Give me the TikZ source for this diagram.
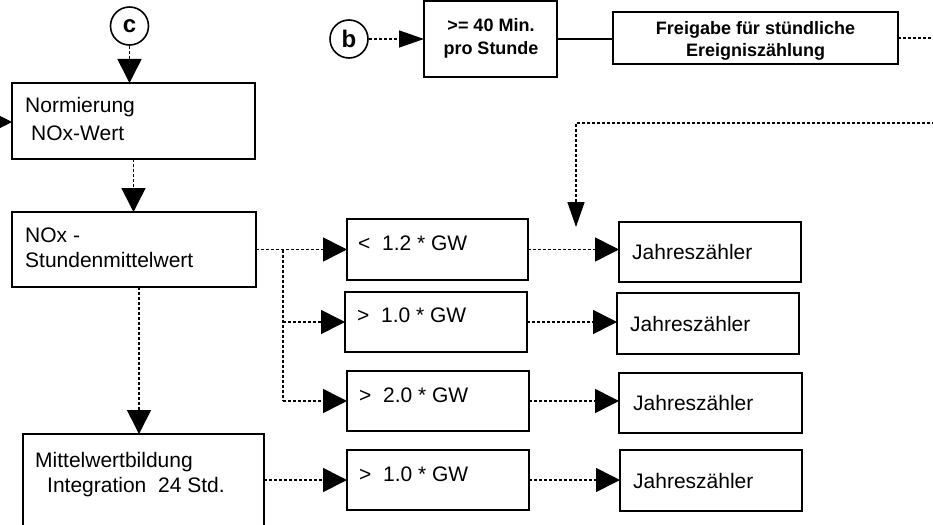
\documentclass[tikz,border=0pt]{standalone}
\usepackage{fontspec}
\setmainfont{Liberation Sans}
\usetikzlibrary{arrows.meta,calc}
\tikzset{
  box/.style={draw, line width=1.8pt, anchor=north west, inner sep=0pt, outer sep=0pt},
  txt/.style={anchor=base west, inner sep=0pt, font=\fontsize{21}{25}\selectfont},
  btxt/.style={anchor=base, inner sep=0pt, font=\bfseries\fontsize{18}{22}\selectfont},
  dline/.style={line width=1.6pt, dash pattern=on 3pt off 2pt},
  sline/.style={line width=1.8pt},
  bigtip/.style={-{Triangle[length=24pt,width=24pt]}},
  slimtip/.style={-{Triangle[length=25pt,width=17pt]}},
  circ/.style={draw, circle, line width=1.6pt, minimum size=38pt, inner sep=0pt, font=\bfseries\fontsize{24}{24}\selectfont},
}
\begin{document}
\begin{tikzpicture}[x=1pt,y=-1pt]
\useasboundingbox (0,0) rectangle (933,524);
\fill[white] (0,0) rectangle (933,524);
\clip (0,0) rectangle (933,524);
% circles
\node[circ] (c) at (129.5,26) {c};
\node[circ] (b) at (349,39) {b};
% left column boxes
\node[box, minimum width=243pt, minimum height=76pt] (norm) at (12,83) {};
\node[box, minimum width=244pt, minimum height=75pt] (nox) at (12,212) {};
\node[box, minimum width=241pt, minimum height=120pt] (mw) at (23,434) {};
% top boxes
\node[box, minimum width=133pt, minimum height=76pt] (m40) at (424,1) {};
\node[box, minimum width=285pt, minimum height=52pt] (frei) at (613,12) {};
% GW boxes
\node[box, minimum width=181pt, minimum height=61pt] (g1) at (347,219) {};
\node[box, minimum width=182pt, minimum height=60pt] (g2) at (345,292) {};
\node[box, minimum width=182pt, minimum height=60pt] (g3) at (347,371) {};
\node[box, minimum width=182pt, minimum height=60pt] (g4) at (347,450) {};
% Jahreszaehler boxes
\node[box, minimum width=182pt, minimum height=60pt] (j1) at (619,222) {};
\node[box, minimum width=182pt, minimum height=61pt] (j2) at (617,293) {};
\node[box, minimum width=183pt, minimum height=60pt] (j3) at (619,373) {};
\node[box, minimum width=182pt, minimum height=61pt] (j4) at (620,450) {};
% texts
\node[txt] (tn1) at (25,113) {Normierung};
\node[txt] (tn2) at (31,140) {NOx-Wert};
\node[txt] (tx1) at (25,242) {NOx -};
\node[txt] (tx2) at (25,267) {Stundenmittelwert};
\node[txt] (tm1) at (35,467) {Mittelwertbildung};
\node[txt] (tm2) at (47,492) {Integration\ \ 24 Std.};
\node[txt] (tg1) at (358,250) {<\ \ 1.2 * GW};
\node[txt] (tg2) at (357,322) {>\ \ 1.0 * GW};
\node[txt] (tg3) at (359,402) {>\ \ 2.0 * GW};
\node[txt] (tg4) at (359,481) {>\ \ 1.0 * GW};
\node[txt] (tj1) at (632,259) {Jahreszähler};
\node[txt] (tj2) at (630,331) {Jahreszähler};
\node[txt] (tj3) at (633,410) {Jahreszähler};
\node[txt] (tj4) at (633,488) {Jahreszähler};
\node[btxt] (tb1) at (491,32) {>= 40 Min.};
\node[btxt] (tb2) at (491,55) {pro Stunde};
\node[btxt] (tf1) at (755.5,35) {Freigabe für stündliche};
\node[btxt] (tf2) at (755.5,57) {Ereigniszählung};
% connectors
\coordinate (lin) at (-40,122);
\draw[dline,bigtip] (lin) -- (lin -| norm.west);
\draw[dline,bigtip] (c) -- (c |- norm.north);
\draw[dline,bigtip] (norm.south) -- (norm.south |- nox.north);
\coordinate (noxs) at ($(nox.south)+(5,0)$);
\draw[dline,bigtip] (noxs) -- (noxs |- mw.north);
\draw[dline,bigtip] (nox.east) -- (nox.east -| g1.west);
\coordinate (bt) at (283,249.5);
\draw[dline,line width=2.2pt] (bt) -- (bt |- g3.west);
\draw[dline,bigtip] (bt |- g2.west) -- (g2.west);
\draw[dline,bigtip] (bt |- g3.west) -- (g3.west);
\coordinate (mwr) at (264,480);
\draw[dline,bigtip] (mwr) -- (mwr -| g4.west);
\draw[dline,bigtip] (g1.east) -- (g1.east -| j1.west);
\draw[dline,bigtip] (g2.east) -- (g2.east -| j2.west);
\draw[dline,bigtip] (g3.east) -- (g3.east -| j3.west);
\draw[dline,bigtip] (g4.east) -- (g4.east -| j4.west);
\draw[dline,slimtip] (b) -- (m40.west);
\draw[sline] (m40.east) -- (m40.east -| frei.west);
\coordinate (fr) at (960,38);
\draw[dline] (frei.east) -- (fr);
\coordinate (rr) at (960,123);
\coordinate (dn) at (576,227);
\draw[dline,slimtip] (rr) -- (rr -| dn) -- (dn);
\end{tikzpicture}
\end{document}
